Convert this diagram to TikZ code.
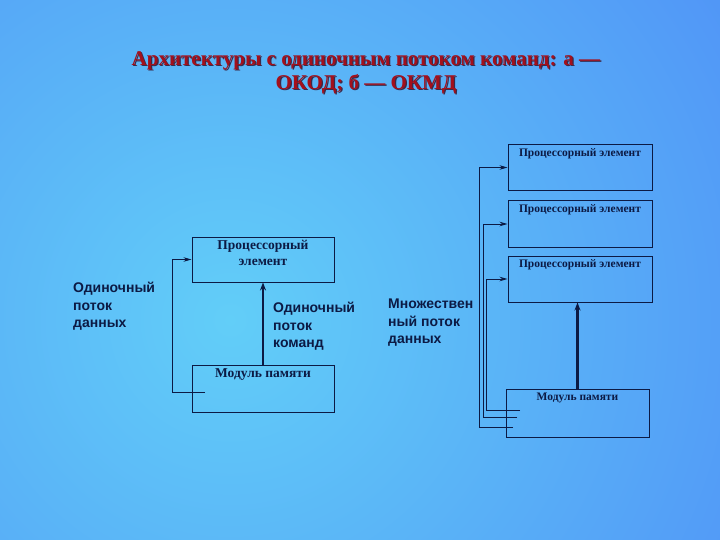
\documentclass[tikz,border=0pt]{standalone}
\usepackage{fontspec}
\setmainfont{Liberation Serif}
\setsansfont{Liberation Sans}
\usetikzlibrary{arrows.meta}

\definecolor{bgblue}{HTML}{4C86F6}
\definecolor{bgcyan}{HTML}{62CEF8}
\definecolor{ink}{HTML}{0C1A44}
\definecolor{titlered}{HTML}{A3101C}
\definecolor{titleshade}{HTML}{3A2A4A}

\tikzset{
	box/.style={draw=ink, line width=1pt, inner sep=0pt},
	boxtext/.style={font=\bfseries\fontsize{#1}{16}\selectfont, text=ink, align=center, anchor=north, inner sep=4pt},
	tag/.style={font=\sffamily\bfseries\fontsize{14}{17.5}\selectfont, text=ink, align=left, anchor=north west, inner sep=0pt},
	headline/.style={font=\bfseries\fontsize{21}{24}\selectfont, align=center},
	feed/.style={draw=ink, line width=0.8pt, -{Stealth[length=8pt,width=4.5pt]}},
	stream/.style={draw=ink, line width=2.2pt, -{Stealth[length=8pt,width=6pt]}}
}

\begin{document}
\begin{tikzpicture}[x=1pt, y=-1pt]
	\begin{scope}
		\clip (0,0) rectangle (720,540);
		\fill[bgblue] (0,0) rectangle (720,540);
		\shade[inner color=bgcyan, outer color=bgblue] (230,320) circle (760pt);
	\end{scope}
	\useasboundingbox (0,0) rectangle (720,540);

	\node[headline, text=titleshade] (headshade) at (367.2,74.2) {Архитектуры с одиночным потоком команд: а —\\ОКОД; б — ОКМД};
	\node[headline, text=titlered] (head) at (366,73) {Архитектуры с одиночным потоком команд: а —\\ОКОД; б — ОКМД};

	% ОКОД
	\node[box, minimum width=142pt, minimum height=45pt] (peL) at (263,259.5) {};
	\node[boxtext=13.5] (peLtext) at (peL.north) {Процессорный\\элемент};
	\node[box, minimum width=142pt, minimum height=47pt] (memL) at (263,388.5) {};
	\node[boxtext=13.5] (memLtext) at (memL.north) {Модуль памяти};

	\coordinate (tailL) at (205,392);
	\draw[feed] (tailL) -- (172,392) |- (peL.west);
	\draw[stream] (memL.north) -- (peL.south);

	\node[tag] (dataL) at (73,282) {Одиночный\\поток\\данных};
	\node[tag] (cmdL) at (273,302) {Одиночный\\поток\\команд};

	% ОКМД
	\foreach \n/\y in {A/167.5, B/224, C/279}
	{
		\node[box, minimum width=144pt, minimum height=46pt] (pe\n) at (580,\y) {};
		\node[boxtext=11.5] (pe\n text) at (pe\n.north) {Процессорный элемент};
	}
	\node[box, minimum width=143pt, minimum height=48pt] (memR) at (577.5,413) {};
	\node[boxtext=11.5] (memRtext) at (memR.north) {Модуль памяти};

	\foreach \n/\x/\z/\e in {A/479/427/513, B/483/417/517, C/486/410/520}
	{
		\coordinate (tail\n) at (\e,\z);
		\draw[feed] (tail\n) -- (\x,\z) |- (pe\n.west);
	}
	\draw[stream] (memR.north) -- (memR.north |- peC.south);

	\node[tag] (dataR) at (388,299) {Множествен\\ный поток\\данных};
\end{tikzpicture}
\end{document}
